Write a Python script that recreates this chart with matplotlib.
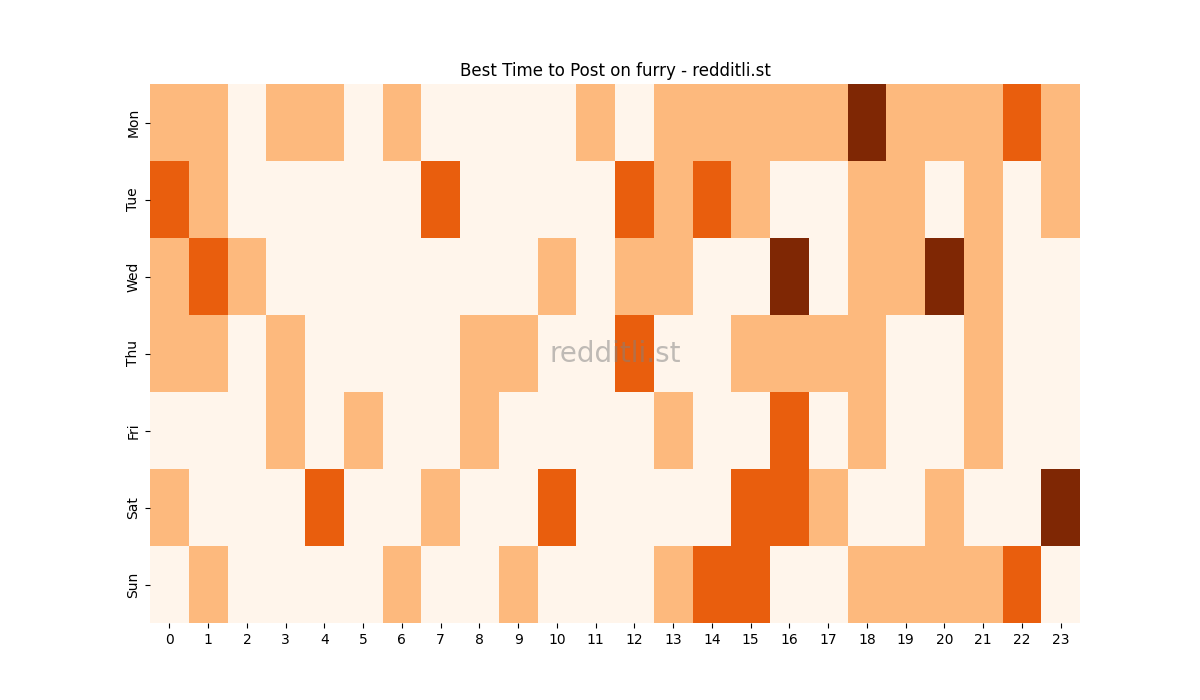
import matplotlib
matplotlib.use("Agg")
import matplotlib.pyplot as plt
import seaborn as sns
import pandas as pd

days = ["Mon", "Tue", "Wed", "Thu", "Fri", "Sat", "Sun"]
hours = list(range(24))

mon = [1, 1, 0, 1, 1, 0, 1, 0, 0, 0, 0, 1, 0, 1, 1, 1, 1, 1, 3, 1, 1, 1, 2, 1]
tue = [2, 1, 0, 0, 0, 0, 0, 2, 0, 0, 0, 0, 2, 1, 2, 1, 0, 0, 1, 1, 0, 1, 0, 1]
wed = [1, 2, 1, 0, 0, 0, 0, 0, 0, 0, 1, 0, 1, 1, 0, 0, 3, 0, 1, 1, 3, 1, 0, 0]
thu = [1, 1, 0, 1, 0, 0, 0, 0, 1, 1, 0, 0, 2, 0, 0, 1, 1, 1, 1, 0, 0, 1, 0, 0]
fri = [0, 0, 0, 1, 0, 1, 0, 0, 1, 0, 0, 0, 0, 1, 0, 0, 2, 0, 1, 0, 0, 1, 0, 0]
sat = [1, 0, 0, 0, 2, 0, 0, 1, 0, 0, 2, 0, 0, 0, 0, 2, 2, 1, 0, 0, 1, 0, 0, 3]
sun = [0, 1, 0, 0, 0, 0, 1, 0, 0, 1, 0, 0, 0, 1, 2, 2, 0, 0, 1, 1, 1, 1, 2, 0]

df = pd.DataFrame([mon, tue, wed, thu, fri, sat, sun], index=days, columns=hours)

fig, ax = plt.subplots(figsize=(12, 7), dpi=100)
sns.heatmap(df, cmap="Oranges", cbar=False, vmin=0, vmax=3, ax=ax)
ax.set_title("Best Time to Post on furry - redditli.st")
ax.text(0.5, 0.5, "redditli.st", transform=ax.transAxes, ha="center", va="center",
        fontsize=20, color="gray", alpha=0.5)

fig.savefig("out.png")
